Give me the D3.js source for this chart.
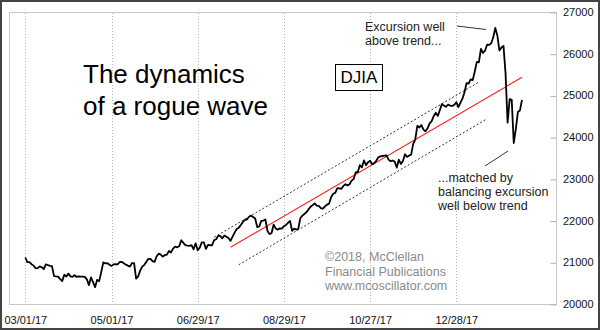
<!DOCTYPE html>
<html>
<head>
<meta charset="utf-8">
<script src="https://cdn.jsdelivr.net/npm/d3@7"></script>
<style>
  html, body { margin: 0; padding: 0; background: #fff; }
  svg { display: block; font-family: "Liberation Sans", Arial, sans-serif; }
</style>
</head>
<body>
<svg id="chart" width="600" height="330"></svg>
<script>
// DJIA daily closes, one per trading day starting 03/01/17
const djiaCloses = [
  // Mar 2017
  21115, 21003, 21006, 20954, 20925, 20856, 20858, 20903, 20881, 20837, 20950, 20935,
  20915, 20906, 20668, 20661, 20657, 20597, 20551, 20702, 20659, 20728, 20663,
  // Apr 2017
  20650, 20689, 20648, 20663, 20656, 20658, 20651, 20592, 20453, 20637, 20523, 20404,
  20579, 20548, 20764, 20996, 20975, 20981, 20941,
  // May 2017
  20913, 20950, 20958, 20951, 21007, 21012, 20976, 20943, 20919, 20897, 20982, 20980,
  20607, 20663, 20805, 20895, 20938, 21012, 21083, 21080, 21029, 21009,
  // Jun 2017
  21144, 21206, 21184, 21136, 21174, 21183, 21272, 21236, 21328, 21375, 21360, 21384,
  21529, 21467, 21410, 21397, 21395, 21410, 21311, 21455, 21287, 21350,
  // Jul 2017
  21479, 21478, 21320, 21414, 21409, 21409, 21532, 21553, 21638, 21630, 21575, 21641,
  21612, 21580, 21513, 21613, 21711, 21797, 21830, 21891,
  // Aug 2017
  21964, 22016, 22026, 22093, 22118, 22085, 22049, 21844, 21858, 21994, 21999, 22025,
  21751, 21675, 21704, 21900, 21812, 21783, 21814, 21808, 21865, 21892, 21948,
  // Sep 2017
  21988, 21753, 21808, 21785, 21798, 22057, 22119, 22158, 22203, 22268, 22331, 22371,
  22413, 22359, 22350, 22296, 22284, 22341, 22381, 22405,
  // Oct 2017
  22558, 22642, 22662, 22775, 22774, 22761, 22831, 22873, 22841, 22872, 22957, 22997,
  23158, 23163, 23329, 23274, 23442, 23329, 23401, 23434, 23349, 23377,
  // Nov 2017
  23435, 23516, 23539, 23548, 23557, 23563, 23462, 23422, 23440, 23409, 23271, 23458,
  23358, 23430, 23591, 23526, 23558, 23581, 23837, 23941, 24272,
  // Dec 2017
  24232, 24290, 24181, 24141, 24211, 24329, 24386, 24505, 24585, 24509, 24652, 24792,
  24755, 24727, 24782, 24754, 24746, 24774, 24838, 24719,
  // Jan 2018
  24824, 24923, 25075, 25296, 25283, 25386, 25369, 25575, 25803, 25793, 26116, 26018,
  26072, 26215, 26211, 26252, 26393, 26617, 26439, 26077, 26149,
  // Feb 2018
  26187, 25521, 24346, 24913, 24893, 23860, 24191, 24601, 24640, 24893
];

// date axis: trading-day positions and their labels
const tickDays   = [0, 42, 84, 126, 168, 210];
const tickLabels = ["03/01/17", "05/01/17", "06/29/17", "08/29/17", "10/27/17", "12/28/17"];

// price axis
const priceTicks = [20000, 21000, 22000, 23000, 24000, 25000, 26000, 27000];

// trend line and channel, as [trading day, index level] endpoints
const trendLine = [[100, 21360], [242, 25435]];
const upperBand = [[92, 21600], [221, 25320]];
const lowerBand = [[104, 20940], [225, 24440]];

// ---- layout ----
const W = 600, H = 330;
const plot = { left: 9, right: 556, top: 12, bottom: 304 };

const svg = d3.select("#chart");

const x = d3.scaleLinear().domain([0, 210]).range([25.3, 456.3]);
const y = d3.scaleLinear().domain([20000, 27000]).range([plot.bottom, plot.top]);

// outer frame
svg.append("rect")
  .attr("x", 1).attr("y", 1).attr("width", W - 2).attr("height", H - 2)
  .attr("fill", "#fff").attr("stroke", "#444").attr("stroke-width", 2);

// plot area border
svg.append("rect")
  .attr("x", plot.left + 0.5).attr("y", plot.top + 0.5)
  .attr("width", plot.right - plot.left).attr("height", plot.bottom - plot.top)
  .attr("fill", "none").attr("stroke", "#c8c8c8").attr("stroke-width", 1);

// vertical dotted gridlines at the date ticks
svg.append("g").selectAll("line").data(tickDays).join("line")
  .attr("x1", d => Math.round(x(d)) + 0.5).attr("x2", d => Math.round(x(d)) + 0.5)
  .attr("y1", plot.top + 1).attr("y2", plot.bottom)
  .attr("stroke", "#b4b4b4").attr("stroke-width", 1).attr("stroke-dasharray", "1,2");

// price axis: inner tick marks on the right edge
const yMarks = svg.append("g")
  .attr("transform", `translate(${plot.right + 0.5},0.5)`)
  .call(d3.axisLeft(y).tickValues(priceTicks).tickSize(6).tickFormat(""));
yMarks.select(".domain").remove();
yMarks.selectAll(".tick line").attr("stroke", "#b4b4b4");

// price axis labels
const yLabels = svg.append("g")
  .attr("transform", `translate(${plot.right},0)`)
  .call(d3.axisRight(y).tickValues(priceTicks).tickSize(0).tickPadding(7).tickFormat(d3.format("d")));
yLabels.select(".domain").remove();
yLabels.selectAll("text")
  .attr("font-family", "'Liberation Sans', Arial, sans-serif")
  .attr("font-size", 11).attr("fill", "#111");

// date axis labels
const xLabels = svg.append("g")
  .attr("transform", `translate(0,${plot.bottom})`)
  .call(d3.axisBottom(x).tickValues(tickDays).tickSize(0).tickPadding(12)
    .tickFormat((d, i) => tickLabels[i]));
xLabels.select(".domain").remove();
xLabels.selectAll("text")
  .attr("font-family", "'Liberation Sans', Arial, sans-serif")
  .attr("font-size", 11).attr("fill", "#111");

// channel lines
const seg = d3.line().x(d => x(d[0])).y(d => y(d[1]));
[upperBand, lowerBand].forEach(band => {
  svg.append("path").attr("d", seg(band))
    .attr("fill", "none").attr("stroke", "#333").attr("stroke-width", 1)
    .attr("stroke-dasharray", "2,2");
});

// trend line
svg.append("path").attr("d", seg(trendLine))
  .attr("fill", "none").attr("stroke", "#ff1a1a").attr("stroke-width", 1.1);

// DJIA price line
const priceLine = d3.line().x((d, i) => x(i)).y(d => y(d)).curve(d3.curveLinear);
svg.append("path").datum(djiaCloses).attr("d", priceLine)
  .attr("fill", "none").attr("stroke", "#000").attr("stroke-width", 1.8)
  .attr("stroke-linejoin", "round");

// headline
const title = svg.append("text").attr("font-size", 26).attr("fill", "#000");
title.append("tspan").attr("x", 83).attr("y", 83).text("The dynamics");
title.append("tspan").attr("x", 83).attr("y", 115).text("of a rogue wave");

// boxed index name
svg.append("rect")
  .attr("x", 335.5).attr("y", 64.5).attr("width", 47).attr("height", 26)
  .attr("fill", "#fff").attr("stroke", "#000").attr("stroke-width", 1);
svg.append("text").attr("x", 359).attr("y", 83)
  .attr("text-anchor", "middle").attr("font-size", 17).attr("fill", "#000").text("DJIA");

// annotations
function note(xPos, baselines, lines, color) {
  const t = svg.append("text").attr("font-size", 12.5).attr("fill", color);
  lines.forEach((s, i) => t.append("tspan").attr("x", xPos).attr("y", baselines[i]).text(s));
}
note(365, [30.7, 45], ["Excursion well", "above trend..."], "#222");
svg.append("line").attr("x1", 457).attr("y1", 26).attr("x2", 486).attr("y2", 29.5)
  .attr("stroke", "#333").attr("stroke-width", 1);

note(438, [181.5, 195.8, 210], ["...matched by", "balancing excursion", "well below trend"], "#222");
svg.append("line").attr("x1", 485).attr("y1", 166).attr("x2", 508).attr("y2", 151)
  .attr("stroke", "#333").attr("stroke-width", 1);

note(325, [261, 275.5, 290], ["\u00A92018, McClellan", "Financial Publications", "www.mcoscillator.com"], "#8a8a8a");
</script>
</body>
</html>
